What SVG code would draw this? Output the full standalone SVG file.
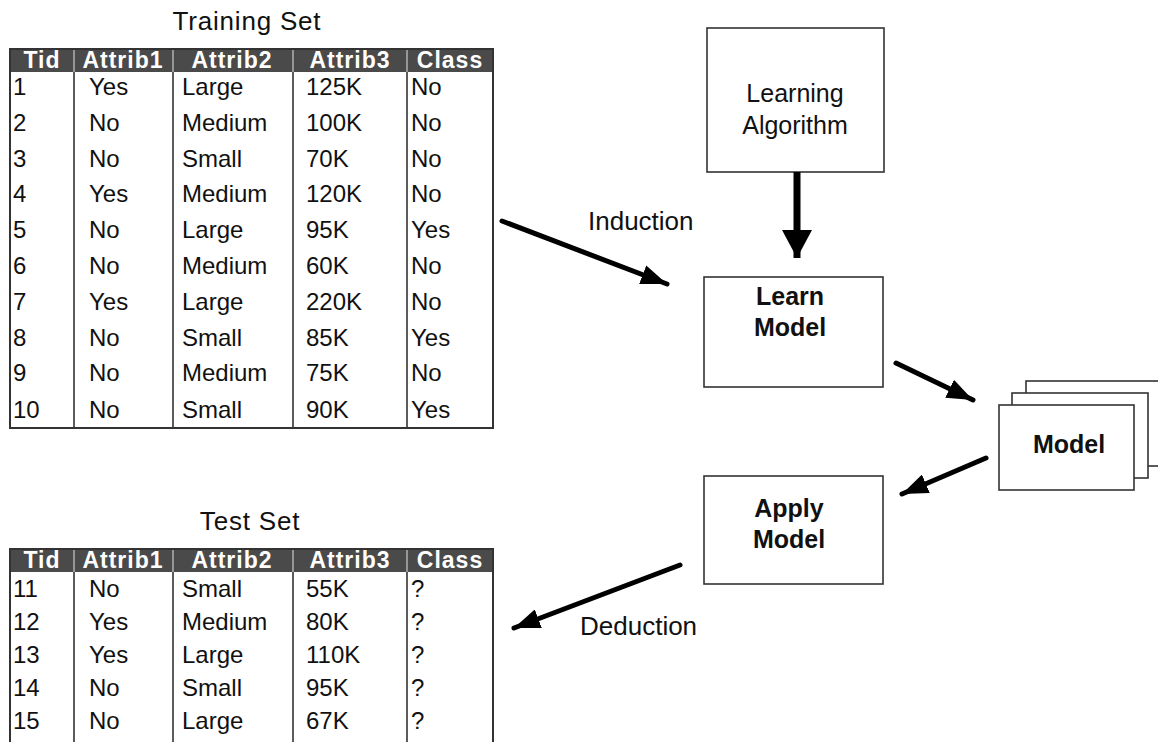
<svg xmlns="http://www.w3.org/2000/svg" width="1158" height="742" viewBox="0 0 1158 742">
<style>
text{font-family:"Liberation Sans",Arial,sans-serif;fill:#111}
.ttl{font-size:26px;text-anchor:middle;letter-spacing:0.8px}
.hd{font-size:23px;font-weight:bold;fill:#fff;text-anchor:middle;letter-spacing:1px}
.c{font-size:24px}
.lbl{font-size:26px}
.bx{fill:#fff;stroke:#333;stroke-width:1.6}
.bt{font-size:25px;text-anchor:middle}
.bb{font-size:25px;font-weight:bold;text-anchor:middle}
.hdr{fill:#4a4a4a}
.frame{fill:none;stroke:#333;stroke-width:2}
.col{stroke:#333;stroke-width:1.6}
.hcol{stroke:#aaa;stroke-width:1.6}
.arr{stroke:#000;stroke-width:5;fill:none;stroke-linecap:round}
.arrb{stroke:#000;stroke-width:7;fill:none}
</style>
<defs>
<marker id="ah" markerUnits="userSpaceOnUse" viewBox="0 0 26 20" refX="26" refY="10" markerWidth="26" markerHeight="20" orient="auto"><path d="M0,0 L26,10 L0,20 z" fill="#000"/></marker>
<marker id="ahb" markerUnits="userSpaceOnUse" viewBox="0 0 28 30" refX="28" refY="15" markerWidth="28" markerHeight="30" orient="auto"><path d="M0,0 L28,15 L0,30 z" fill="#000"/></marker>
</defs>
<rect width="1158" height="742" fill="#fff"/>

<g id="training-set">
<text class="ttl" x="247" y="30">Training Set</text>
<rect class="hdr" x="10" y="49" width="483" height="23"/>
<line class="hcol" x1="74" y1="49" x2="74" y2="72"/>
<line class="hcol" x1="173" y1="49" x2="173" y2="72"/>
<line class="hcol" x1="293" y1="49" x2="293" y2="72"/>
<line class="hcol" x1="407" y1="49" x2="407" y2="72"/>
<line class="col" x1="74" y1="72" x2="74" y2="428"/>
<line class="col" x1="173" y1="72" x2="173" y2="428"/>
<line class="col" x1="293" y1="72" x2="293" y2="428"/>
<line class="col" x1="407" y1="72" x2="407" y2="428"/>
<rect class="frame" x="10" y="49" width="483" height="379"/>
<text class="hd" x="42" y="68">Tid</text>
<text class="hd" x="123" y="68">Attrib1</text>
<text class="hd" x="232" y="68">Attrib2</text>
<text class="hd" x="350" y="68">Attrib3</text>
<text class="hd" x="450" y="68">Class</text>
<g class="c">
<text x="13" y="95">1</text><text x="89" y="95">Yes</text><text x="182" y="95">Large</text><text x="306" y="95">125K</text><text x="411" y="95">No</text>
<text x="13" y="131">2</text><text x="89" y="131">No</text><text x="182" y="131">Medium</text><text x="306" y="131">100K</text><text x="411" y="131">No</text>
<text x="13" y="167">3</text><text x="89" y="167">No</text><text x="182" y="167">Small</text><text x="306" y="167">70K</text><text x="411" y="167">No</text>
<text x="13" y="202">4</text><text x="89" y="202">Yes</text><text x="182" y="202">Medium</text><text x="306" y="202">120K</text><text x="411" y="202">No</text>
<text x="13" y="238">5</text><text x="89" y="238">No</text><text x="182" y="238">Large</text><text x="306" y="238">95K</text><text x="411" y="238">Yes</text>
<text x="13" y="274">6</text><text x="89" y="274">No</text><text x="182" y="274">Medium</text><text x="306" y="274">60K</text><text x="411" y="274">No</text>
<text x="13" y="310">7</text><text x="89" y="310">Yes</text><text x="182" y="310">Large</text><text x="306" y="310">220K</text><text x="411" y="310">No</text>
<text x="13" y="346">8</text><text x="89" y="346">No</text><text x="182" y="346">Small</text><text x="306" y="346">85K</text><text x="411" y="346">Yes</text>
<text x="13" y="381">9</text><text x="89" y="381">No</text><text x="182" y="381">Medium</text><text x="306" y="381">75K</text><text x="411" y="381">No</text>
<text x="13" y="418">10</text><text x="89" y="418">No</text><text x="182" y="418">Small</text><text x="306" y="418">90K</text><text x="411" y="418">Yes</text>
</g>
</g>

<g id="test-set">
<text class="ttl" x="250" y="530">Test Set</text>
<rect class="hdr" x="10" y="549" width="483" height="23"/>
<line class="hcol" x1="74" y1="549" x2="74" y2="572"/>
<line class="hcol" x1="173" y1="549" x2="173" y2="572"/>
<line class="hcol" x1="293" y1="549" x2="293" y2="572"/>
<line class="hcol" x1="407" y1="549" x2="407" y2="572"/>
<line class="col" x1="74" y1="572" x2="74" y2="750"/>
<line class="col" x1="173" y1="572" x2="173" y2="750"/>
<line class="col" x1="293" y1="572" x2="293" y2="750"/>
<line class="col" x1="407" y1="572" x2="407" y2="750"/>
<rect class="frame" x="10" y="549" width="483" height="210"/>
<text class="hd" x="42" y="568">Tid</text>
<text class="hd" x="123" y="568">Attrib1</text>
<text class="hd" x="232" y="568">Attrib2</text>
<text class="hd" x="350" y="568">Attrib3</text>
<text class="hd" x="450" y="568">Class</text>
<g class="c">
<text x="13" y="597">11</text><text x="89" y="597">No</text><text x="182" y="597">Small</text><text x="306" y="597">55K</text><text x="411" y="597">?</text>
<text x="13" y="630">12</text><text x="89" y="630">Yes</text><text x="182" y="630">Medium</text><text x="306" y="630">80K</text><text x="411" y="630">?</text>
<text x="13" y="663">13</text><text x="89" y="663">Yes</text><text x="182" y="663">Large</text><text x="306" y="663">110K</text><text x="411" y="663">?</text>
<text x="13" y="696">14</text><text x="89" y="696">No</text><text x="182" y="696">Small</text><text x="306" y="696">95K</text><text x="411" y="696">?</text>
<text x="13" y="729">15</text><text x="89" y="729">No</text><text x="182" y="729">Large</text><text x="306" y="729">67K</text><text x="411" y="729">?</text>
</g>
</g>

<g id="learning-algorithm">
<rect class="bx" x="707" y="28" width="177" height="144"/>
<text class="bt" x="795" y="102">Learning</text>
<text class="bt" x="795" y="134">Algorithm</text>
</g>

<g id="learn-model">
<rect class="bx" x="704" y="277" width="179" height="110"/>
<text class="bb" x="790" y="305">Learn</text>
<text class="bb" x="790" y="336">Model</text>
</g>

<g id="apply-model">
<rect class="bx" x="704" y="476" width="179" height="108"/>
<text class="bb" x="789" y="517">Apply</text>
<text class="bb" x="789" y="548">Model</text>
</g>

<g id="model">
<rect class="bx" x="1026" y="381" width="200" height="85"/>
<rect class="bx" x="1012" y="393" width="136" height="85"/>
<rect class="bx" x="999" y="405" width="135" height="85"/>
<text class="bb" x="1069" y="453">Model</text>
</g>

<g id="connectors">
<line class="arr" x1="502" y1="221" x2="667" y2="284" marker-end="url(#ah)"/>
<line class="arrb" x1="797" y1="172" x2="797" y2="258" marker-end="url(#ahb)"/>
<line class="arr" x1="896" y1="363" x2="973" y2="400" marker-end="url(#ah)"/>
<line class="arr" x1="986" y1="458" x2="902" y2="494" marker-end="url(#ah)"/>
<line class="arr" x1="680" y1="565" x2="514" y2="628" marker-end="url(#ah)"/>
<text class="lbl" x="588" y="230">Induction</text>
<text class="lbl" x="580" y="635">Deduction</text>
</g>
</svg>
